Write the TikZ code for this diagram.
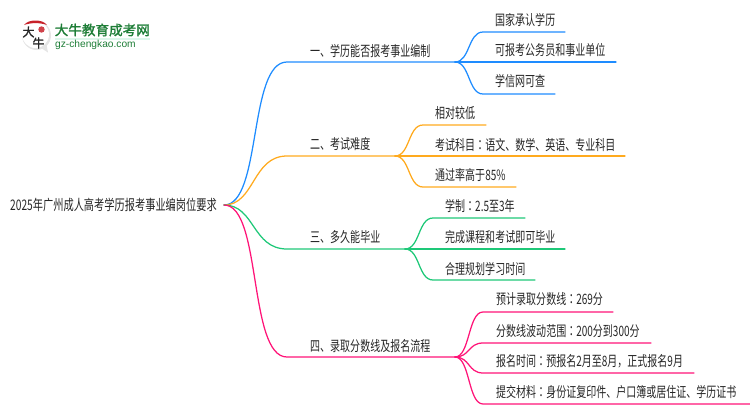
\documentclass[tikz,border=0pt]{standalone}
\usepackage{fontspec}
\setmainfont{Noto Sans CJK SC}[FakeStretch=0.7]
\newfontfamily\tcfont{Noto Sans CJK TC}[FakeStretch=0.7]
\newcommand{\cln}{{\tcfont ：}}
\newfontfamily\logofont{Noto Sans CJK SC}[FakeBold=1.5]
\newfontfamily\logolat{Liberation Sans}
\definecolor{cblue}{HTML}{1E8CFF}
\definecolor{corange}{HTML}{FFAA1E}
\definecolor{cgreen}{HTML}{1EC878}
\definecolor{cpink}{HTML}{FF1478}
\definecolor{ctext}{HTML}{262626}
\definecolor{cgreenlogo}{HTML}{1E7D37}
\definecolor{cred}{HTML}{C8222A}
\tikzset{
  lbl/.style={anchor=west,inner sep=0pt,text=ctext,font=\fontsize{14.3}{16}\selectfont},
  wire/.style={line width=1.25pt,line cap=round},
  logochar/.style={inner sep=0pt,font=\fontsize{12}{12}\logofont,text=black!85},
}
\begin{document}
\begin{tikzpicture}[x=1pt,y=-1pt]
\useasboundingbox (0,0) rectangle (750,410);

% logo
\fill[white!90!black] (36.5,35.5) circle (14.5);
\fill[white!90!black] (38,46) -- (48,52.5) -- (46,42) -- cycle;
\fill[white] (35.5,34.5) circle (13.5);
\fill[cred] (24,25) .. controls (28,19) and (43,19) .. (47,25) .. controls (40,22.5) and (31,22.5) .. (24,25) -- cycle;
\fill[cred!85!white] (41.5,29.5) circle (3.2);
\node[logochar] (logoA) at (28.5,32) {大};
\node[logochar] (logoB) at (38.5,43) {牛};
\node[anchor=west,inner sep=0pt,text=cgreenlogo,font=\fontsize{13.6}{14}\logofont] (logoT) at (54.5,30) {大牛教育成考网};
\fill[cgreen!15!white] (54.5,38) rectangle (150,39.5);
\node[anchor=west,inner sep=0pt,text=cgreenlogo,font=\fontsize{10.2}{11}\logolat] (logoU) at (55,45) {gz-chengkao.com};

% root
\node[lbl,font=\fontsize{14.6}{16}\selectfont] (root) at (10,205) {2025年广州成人高考学历报考事业编岗位要求};
\coordinate (r) at (224,205);

% branch coordinates
\coordinate (b1s) at (287,62);  \coordinate (b1e) at (455,62);
\coordinate (b2s) at (287,156); \coordinate (b2e) at (395,156);
\coordinate (b3s) at (287,249); \coordinate (b3e) at (405,249);
\coordinate (b4s) at (287,357); \coordinate (b4e) at (455,357);

% branches
\draw[wire,cblue] (r) .. controls (262,205) and (248,62) .. (b1s) -- (b1e);
\draw[wire,corange] (r) .. controls (255,205) and (252,156) .. (b2s) -- (b2e);
\draw[wire,cgreen] (r) .. controls (255,205) and (252,249) .. (b3s) -- (b3e);
\draw[wire,cpink] (r) .. controls (262,205) and (248,357) .. (b4s) -- (b4e);

\node[lbl] (t1) at (310,51) {一、学历能否报考事业编制};
\node[lbl] (t2) at (310,144) {二、考试难度};
\node[lbl] (t3) at (310,237) {三、多久能毕业};
\node[lbl] (t4) at (310,346) {四、录取分数线及报名流程};

% children: blue
\foreach \n/\y/\xe in {a/32/565,b/62/616,c/94/555}{
  \coordinate (c1\n s) at (483,\y); \coordinate (c1\n e) at (\xe,\y);
  \draw[wire,cblue] (b1e) .. controls (470,62) and (468,\y) .. (c1\n s) -- (c1\n e);
}
\node[lbl] (n1a) at (495,19.5) {国家承认学历};
\node[lbl] (n1b) at (495,50.5) {可报考公务员和事业单位};
\node[lbl] (n1c) at (495,81.5) {学信网可查};

% children: orange
\foreach \n/\y/\xe in {a/125/486,b/156/625,c/187/516}{
  \coordinate (c2\n s) at (423,\y); \coordinate (c2\n e) at (\xe,\y);
  \draw[wire,corange] (b2e) .. controls (410,156) and (408,\y) .. (c2\n s) -- (c2\n e);
}
\node[lbl] (n2a) at (435,113) {相对较低};
\node[lbl] (n2b) at (435,145) {考试科目\cln 语文、数学、英语、专业科目};
\node[lbl] (n2c) at (435,175) {通过率高于85\%};

% children: green
\foreach \n/\y/\xe in {a/218/525,b/249/565,c/280/535}{
  \coordinate (c3\n s) at (433,\y); \coordinate (c3\n e) at (\xe,\y);
  \draw[wire,cgreen] (b3e) .. controls (420,249) and (418,\y) .. (c3\n s) -- (c3\n e);
}
\node[lbl] (n3a) at (445,206) {学制\cln 2.5至3年};
\node[lbl] (n3b) at (445,237) {完成课程和考试即可毕业};
\node[lbl] (n3c) at (445,268.5) {合理规划学习时间};

% children: pink
\foreach \n/\y/\xe in {a/312/613,b/343/651,c/373/694,d/404/750}{
  \coordinate (c4\n s) at (483,\y); \coordinate (c4\n e) at (\xe,\y);
  \draw[wire,cpink] (b4e) .. controls (470,357) and (468,\y) .. (c4\n s) -- (c4\n e);
}
\node[lbl] (n4a) at (496,299.5) {预计录取分数线\cln 269分};
\node[lbl] (n4b) at (496,331) {分数线波动范围\cln 200分到300分};
\node[lbl] (n4c) at (496,361.5) {报名时间\cln 预报名2月至8月，正式报名9月};
\node[lbl] (n4d) at (496,392.5) {提交材料\cln 身份证复印件、户口簿或居住证、学历证书};
\end{tikzpicture}
\end{document}
